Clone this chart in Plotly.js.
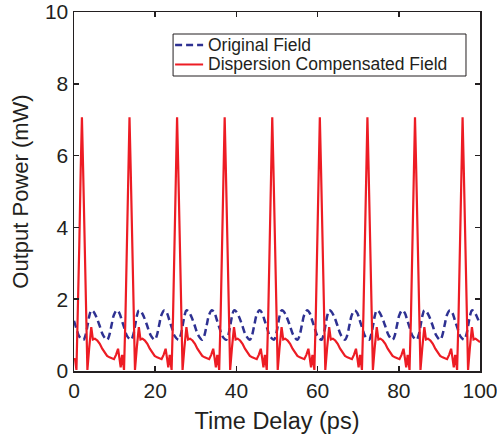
<!DOCTYPE html>
<html>
<head>
<meta charset="utf-8">
<script src="https://cdn.plot.ly/plotly-3.0.1.min.js"></script>
<style>html,body{margin:0;padding:0;background:#fff;}#chart{width:497px;height:440px;}</style>
</head>
<body>
<div id="chart"></div>
<script>
// Original field (blue dashed)
const origTime = [
  0, 0.6, 1.25, 1.85,
  2.35, 2.85, 3.35, 3.80, 4.25, 4.75, 5.45, 6.25, 7.15, 8.15, 8.65, 9.25, 9.85, 10.55, 11.15, 11.75, 12.45, 13.05,
  14.07, 14.57, 15.07, 15.52, 15.97, 16.47, 17.17, 17.97, 18.87, 19.87, 20.37, 20.97, 21.57, 22.27, 22.87, 23.47, 24.17, 24.77,
  25.79, 26.29, 26.79, 27.24, 27.69, 28.19, 28.89, 29.69, 30.59, 31.59, 32.09, 32.69, 33.29, 33.99, 34.59, 35.19, 35.89, 36.49,
  37.51, 38.01, 38.51, 38.96, 39.41, 39.91, 40.61, 41.41, 42.31, 43.31, 43.81, 44.41, 45.01, 45.71, 46.31, 46.91, 47.61, 48.21,
  49.23, 49.73, 50.23, 50.68, 51.13, 51.63, 52.33, 53.13, 54.03, 55.03, 55.53, 56.13, 56.73, 57.43, 58.03, 58.63, 59.33, 59.93,
  60.95, 61.45, 61.95, 62.40, 62.85, 63.35, 64.05, 64.85, 65.75, 66.75, 67.25, 67.85, 68.45, 69.15, 69.75, 70.35, 71.05, 71.65,
  72.67, 73.17, 73.67, 74.12, 74.57, 75.07, 75.77, 76.57, 77.47, 78.47, 78.97, 79.57, 80.17, 80.87, 81.47, 82.07, 82.77, 83.37,
  84.39, 84.89, 85.39, 85.84, 86.29, 86.79, 87.49, 88.29, 89.19, 90.19, 90.69, 91.29, 91.89, 92.59, 93.19, 93.79, 94.49, 95.09,
  96.11, 96.61, 97.11, 97.56, 98.01, 98.51, 99.21, 100.0
];
const origPower = [
  1.40, 1.18, 0.97, 0.89,
  0.87, 1.00, 1.28, 1.55, 1.69, 1.66, 1.52, 1.28, 1.00, 0.87, 0.98, 1.28, 1.57, 1.69, 1.62, 1.42, 1.18, 0.98,
  0.87, 1.00, 1.28, 1.55, 1.69, 1.66, 1.52, 1.28, 1.00, 0.87, 0.98, 1.28, 1.57, 1.69, 1.62, 1.42, 1.18, 0.98,
  0.87, 1.00, 1.28, 1.55, 1.69, 1.66, 1.52, 1.28, 1.00, 0.87, 0.98, 1.28, 1.57, 1.69, 1.62, 1.42, 1.18, 0.98,
  0.87, 1.00, 1.28, 1.55, 1.69, 1.66, 1.52, 1.28, 1.00, 0.87, 0.98, 1.28, 1.57, 1.69, 1.62, 1.42, 1.18, 0.98,
  0.87, 1.00, 1.28, 1.55, 1.69, 1.66, 1.52, 1.28, 1.00, 0.87, 0.98, 1.28, 1.57, 1.69, 1.62, 1.42, 1.18, 0.98,
  0.87, 1.00, 1.28, 1.55, 1.69, 1.66, 1.52, 1.28, 1.00, 0.87, 0.98, 1.28, 1.57, 1.69, 1.62, 1.42, 1.18, 0.98,
  0.87, 1.00, 1.28, 1.55, 1.69, 1.66, 1.52, 1.28, 1.00, 0.87, 0.98, 1.28, 1.57, 1.69, 1.62, 1.42, 1.18, 0.98,
  0.87, 1.00, 1.28, 1.55, 1.69, 1.66, 1.52, 1.28, 1.00, 0.87, 0.98, 1.28, 1.57, 1.69, 1.62, 1.42, 1.18, 0.98,
  0.87, 1.00, 1.28, 1.55, 1.69, 1.66, 1.52, 1.30
];

// Dispersion compensated field (red solid)
const compTime = [
  0, 0.25, 0.60, 0.95, 1.30, 1.65,
  1.95, 2.25, 2.60, 2.95, 3.30, 3.75, 4.25, 4.65, 5.15, 5.75, 6.35, 6.95, 7.55, 8.15, 8.75, 9.35, 9.85, 10.35, 10.85, 11.20, 11.50, 11.85, 12.32, 12.67, 13.02, 13.37,
  13.67, 13.97, 14.32, 14.67, 15.02, 15.47, 15.97, 16.37, 16.87, 17.47, 18.07, 18.67, 19.27, 19.87, 20.47, 21.07, 21.57, 22.07, 22.57, 22.92, 23.22, 23.57, 24.04, 24.39, 24.74, 25.09,
  25.39, 25.69, 26.04, 26.39, 26.74, 27.19, 27.69, 28.09, 28.59, 29.19, 29.79, 30.39, 30.99, 31.59, 32.19, 32.79, 33.29, 33.79, 34.29, 34.64, 34.94, 35.29, 35.76, 36.11, 36.46, 36.81,
  37.11, 37.41, 37.76, 38.11, 38.46, 38.91, 39.41, 39.81, 40.31, 40.91, 41.51, 42.11, 42.71, 43.31, 43.91, 44.51, 45.01, 45.51, 46.01, 46.36, 46.66, 47.01, 47.48, 47.83, 48.18, 48.53,
  48.83, 49.13, 49.48, 49.83, 50.18, 50.63, 51.13, 51.53, 52.03, 52.63, 53.23, 53.83, 54.43, 55.03, 55.63, 56.23, 56.73, 57.23, 57.73, 58.08, 58.38, 58.73, 59.20, 59.55, 59.90, 60.25,
  60.55, 60.85, 61.20, 61.55, 61.90, 62.35, 62.85, 63.25, 63.75, 64.35, 64.95, 65.55, 66.15, 66.75, 67.35, 67.95, 68.45, 68.95, 69.45, 69.80, 70.10, 70.45, 70.92, 71.27, 71.62, 71.97,
  72.27, 72.57, 72.92, 73.27, 73.62, 74.07, 74.57, 74.97, 75.47, 76.07, 76.67, 77.27, 77.87, 78.47, 79.07, 79.67, 80.17, 80.67, 81.17, 81.52, 81.82, 82.17, 82.64, 82.99, 83.34, 83.69,
  83.99, 84.29, 84.64, 84.99, 85.34, 85.79, 86.29, 86.69, 87.19, 87.79, 88.39, 88.99, 89.59, 90.19, 90.79, 91.39, 91.89, 92.39, 92.89, 93.24, 93.54, 93.89, 94.36, 94.71, 95.06, 95.41,
  95.71, 96.01, 96.36, 96.71, 97.06, 97.51, 98.01, 98.41, 98.91, 99.51, 100.0
];
const compPower = [
  0.30, 0.35, 0.03, 1.50, 3.50, 5.60,
  7.07, 5.60, 3.50, 1.50, 0.03, 0.65, 1.22, 0.88, 0.90, 0.85, 0.76, 0.62, 0.50, 0.42, 0.38, 0.35, 0.33, 0.45, 0.62, 0.35, 0.10, 0.45, 0.03, 1.50, 3.50, 5.60,
  7.07, 5.60, 3.50, 1.50, 0.03, 0.65, 1.22, 0.88, 0.90, 0.85, 0.76, 0.62, 0.50, 0.42, 0.38, 0.35, 0.33, 0.45, 0.62, 0.35, 0.10, 0.45, 0.03, 1.50, 3.50, 5.60,
  7.07, 5.60, 3.50, 1.50, 0.03, 0.65, 1.22, 0.88, 0.90, 0.85, 0.76, 0.62, 0.50, 0.42, 0.38, 0.35, 0.33, 0.45, 0.62, 0.35, 0.10, 0.45, 0.03, 1.50, 3.50, 5.60,
  7.07, 5.60, 3.50, 1.50, 0.03, 0.65, 1.22, 0.88, 0.90, 0.85, 0.76, 0.62, 0.50, 0.42, 0.38, 0.35, 0.33, 0.45, 0.62, 0.35, 0.10, 0.45, 0.03, 1.50, 3.50, 5.60,
  7.07, 5.60, 3.50, 1.50, 0.03, 0.65, 1.22, 0.88, 0.90, 0.85, 0.76, 0.62, 0.50, 0.42, 0.38, 0.35, 0.33, 0.45, 0.62, 0.35, 0.10, 0.45, 0.03, 1.50, 3.50, 5.60,
  7.07, 5.60, 3.50, 1.50, 0.03, 0.65, 1.22, 0.88, 0.90, 0.85, 0.76, 0.62, 0.50, 0.42, 0.38, 0.35, 0.33, 0.45, 0.62, 0.35, 0.10, 0.45, 0.03, 1.50, 3.50, 5.60,
  7.07, 5.60, 3.50, 1.50, 0.03, 0.65, 1.22, 0.88, 0.90, 0.85, 0.76, 0.62, 0.50, 0.42, 0.38, 0.35, 0.33, 0.45, 0.62, 0.35, 0.10, 0.45, 0.03, 1.50, 3.50, 5.60,
  7.07, 5.60, 3.50, 1.50, 0.03, 0.65, 1.22, 0.88, 0.90, 0.85, 0.76, 0.62, 0.50, 0.42, 0.38, 0.35, 0.33, 0.45, 0.62, 0.35, 0.10, 0.45, 0.03, 1.50, 3.50, 5.60,
  7.07, 5.60, 3.50, 1.50, 0.03, 0.65, 1.22, 0.88, 0.90, 0.85, 0.80
];

const xTicks = [0, 20, 40, 60, 80, 100];
const yTicks = [0, 2, 4, 6, 8, 10];
const seriesNames = ['Original Field', 'Dispersion Compensated Field'];

const ink = '#231f20';
const fontFam = 'Liberation Sans, Arial, Helvetica, sans-serif';
const blue = '#2e3192';
const red = '#ed1c24';
const blueDash = '7px,4px';

const traces = [
  {
    x: origTime, y: origPower, type: 'scatter', mode: 'lines', name: seriesNames[0],
    line: {color: blue, width: 2.5, dash: blueDash, shape: 'spline', smoothing: 1}
  },
  {
    x: compTime, y: compPower, type: 'scatter', mode: 'lines', name: seriesNames[1],
    line: {color: red, width: 2.2}
  }
];

const axisCommon = {
  showgrid: false, zeroline: false, showline: true, linecolor: ink, linewidth: 1.5,
  mirror: 'ticks', ticks: 'inside', ticklen: 5, tickwidth: 1.5, tickcolor: ink,
  tickfont: {family: fontFam, size: 21, color: ink}, ticklabeloverflow: 'allow'
};

// Compact boxed legend (drawn in paper coordinates of the plot area)
const legBox = {x0: 0.244, x1: 0.9655, y0: 0.8217, y1: 0.9387};
const legRows = [0.9081, 0.8538];
const legLineX = [0.249, 0.318];
const legTextX = 0.3255;

const layout = {
  width: 497, height: 440,
  margin: {l: 74, r: 17, t: 12, b: 69},
  paper_bgcolor: '#fff', plot_bgcolor: '#fff',
  showlegend: false,
  xaxis: Object.assign({}, axisCommon, {
    range: [0, 100], tickvals: xTicks, ticktext: xTicks.map(String),
    title: {text: 'Time Delay (ps)', font: {family: fontFam, size: 23.5, color: ink}, standoff: 12}
  }),
  yaxis: Object.assign({}, axisCommon, {
    range: [0, 10], tickvals: yTicks, ticktext: yTicks.map(String),
    title: {text: 'Output Power (mW)', font: {family: fontFam, size: 22, color: ink}, standoff: 10}
  }),
  shapes: [
    {type: 'rect', xref: 'paper', yref: 'paper', x0: legBox.x0, x1: legBox.x1, y0: legBox.y0, y1: legBox.y1,
     line: {color: ink, width: 1}, fillcolor: '#fff', layer: 'above'},
    {type: 'line', xref: 'paper', yref: 'paper', x0: legLineX[0], x1: legLineX[1], y0: legRows[0], y1: legRows[0],
     line: {color: blue, width: 2.5, dash: blueDash}, layer: 'above'},
    {type: 'line', xref: 'paper', yref: 'paper', x0: legLineX[0], x1: legLineX[1], y0: legRows[1], y1: legRows[1],
     line: {color: red, width: 2}, layer: 'above'}
  ],
  annotations: seriesNames.map((name, i) => ({
    xref: 'paper', yref: 'paper', x: legTextX, y: legRows[i], xanchor: 'left', yanchor: 'middle',
    text: name, showarrow: false, font: {family: fontFam, size: 17.5, color: ink}
  }))
};

Plotly.newPlot('chart', traces, layout, {displayModeBar: false, staticPlot: true});
</script>
</body>
</html>
